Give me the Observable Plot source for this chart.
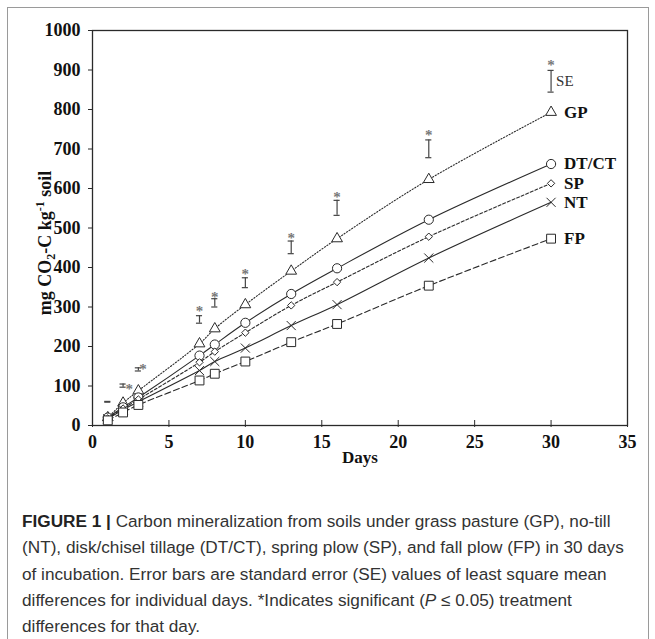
<!DOCTYPE html>
<html><head><meta charset="utf-8">
<script src="https://cdn.jsdelivr.net/npm/d3@7"></script>
<script src="https://cdn.jsdelivr.net/npm/@observablehq/plot@0.6"></script>
<style>
body{margin:0;background:#fff;width:655px;height:639px;overflow:hidden;position:relative}
#frame{position:absolute;left:7px;top:7px;width:642px;height:700px;border:1.5px solid #9a9a9a;box-sizing:border-box}
#chart{position:absolute;left:0;top:0}
#caption{position:absolute;left:22px;top:508px;font-family:"Liberation Sans",Arial,sans-serif;font-size:17.2px;line-height:26.3px;color:#333;white-space:nowrap}
#caption b{color:#222}
</style></head>
<body>
<div id="frame"></div>
<div id="chart"></div>
<div id="caption">
<div><b>FIGURE 1 |</b> Carbon mineralization from soils under grass pasture (GP), no-till</div>
<div>(NT), disk/chisel tillage (DT/CT), spring plow (SP), and fall plow (FP) in 30 days</div>
<div>of incubation. Error bars are standard error (SE) values of least square mean</div>
<div>differences for individual days. *Indicates significant (<i>P</i> ≤ 0.05) treatment</div>
<div>differences for that day.</div>
</div>
<script>
// ---- data ----
const days = [1, 2, 3, 7, 8, 10, 13, 16, 22, 30];
const gp   = [20, 57, 88, 207, 245, 306, 391, 473, 623, 793];
const dtct = [20, 46, 71, 177, 205, 260, 333, 398, 521, 662];
const sp   = [18, 43, 66, 160, 187, 235, 304, 363, 478, 613];
const nt   = [17, 40, 60, 139, 162, 196, 253, 306, 424, 565];
const fp   = [13, 33, 52, 114, 131, 162, 211, 257, 354, 473];
const seriesNames = ["GP", "DT/CT", "SP", "NT", "FP"];
const seriesValues = [gp, dtct, sp, nt, fp];

const seDays = [1, 2, 3, 7, 8, 10, 13, 16, 22, 30];
const seLow  = [59, 97, 138, 259, 300, 349, 435, 532, 678, 844];
const seHigh = [61, 105, 146, 278, 321, 374, 467, 570, 723, 899];
const starDays = [2.4, 3.3, 7, 8, 10, 13, 16, 22, 30];
const starVals = [103, 152, 300, 335, 394, 485, 588, 745, 922];

const xTicks = [0, 5, 10, 15, 20, 25, 30, 35];
const yTicks = [0, 100, 200, 300, 400, 500, 600, 700, 800, 900, 1000];

// ---- styles per series ----
const symbols = {"GP": "triangle", "DT/CT": "circle", "SP": "diamond2", "NT": "times", "FP": "square"};
const radii = {"GP": 4.0, "DT/CT": 4.6, "SP": 3.3, "NT": 4.2, "FP": 5.0};
const dashes = {"GP": "1.2,1.8", "DT/CT": null, "SP": "3,2", "NT": null, "FP": "6,3"};

const rows = [];
seriesNames.forEach((s, i) => days.forEach((d, j) => rows.push({series: s, day: d, value: seriesValues[i][j]})));
const lastRows = seriesNames.map((s, i) => ({series: s, day: days[days.length - 1], value: seriesValues[i][days.length - 1]}));
const seRows = seDays.map((d, i) => ({day: d, lo: seLow[i], hi: seHigh[i]}));
const starRows = starDays.map((d, i) => ({day: d, value: starVals[i]}));

const ink = "#2a2a2a";
const marks = [
  Plot.frame({stroke: ink, strokeWidth: 1.3}),
  Plot.axisX({ticks: xTicks, tickSize: 7, dy: -5, text: null, label: null, stroke: ink}),
  Plot.axisX({ticks: xTicks, tickSize: 0, tickPadding: 10, fontSize: 18, fontWeight: "bold", label: null, fill: "#111", tickFormat: d => String(d)}),
  Plot.axisY({ticks: yTicks, tickSize: 4, tickPadding: 8, fontSize: 18, fontWeight: "bold", label: null, fill: "#111", stroke: ink, tickFormat: d => String(d)}),
  Plot.text(["Days"], {frameAnchor: "bottom", dy: 37, fontSize: 17, fontWeight: "bold", fill: "#111"}),
];
seriesNames.forEach(s => {
  const data = rows.filter(r => r.series === s);
  marks.push(Plot.line(data, {x: "day", y: "value", curve: "catmull-rom", stroke: ink, strokeWidth: 1.1, strokeDasharray: dashes[s]}));
});
seriesNames.forEach(s => {
  const data = rows.filter(r => r.series === s);
  marks.push(Plot.dot(data, {x: "day", y: "value", symbol: () => symbols[s], r: radii[s], stroke: ink, strokeWidth: 1, fill: s === "NT" ? "none" : "white"}));
});
marks.push(
  Plot.ruleX(seRows, {x: "day", y1: "lo", y2: "hi", stroke: "#444", strokeWidth: 1.2}),
  Plot.ruleY(seRows, {y: "lo", x1: d => d.day - 0.2, x2: d => d.day + 0.2, stroke: "#444", strokeWidth: 1.2}),
  Plot.ruleY(seRows, {y: "hi", x1: d => d.day - 0.2, x2: d => d.day + 0.2, stroke: "#444", strokeWidth: 1.2}),
  Plot.text(starRows, {x: "day", y: "value", text: () => "*", fontSize: 15, fill: "#777", dy: 4, fontFamily: "Liberation Serif"}),
  Plot.text([seRows[seRows.length - 1]], {x: "day", y: d => (d.lo + d.hi) / 2, text: () => "SE", dx: 5, textAnchor: "start", fontSize: 15, fontWeight: "normal", fill: "#333"}),
  Plot.text(lastRows, {x: "day", y: "value", text: "series", dx: 13, textAnchor: "start", fontSize: 17, fontWeight: "bold", fill: "#111"})
);

const chart = Plot.plot({
  width: 655, height: 470,
  marginLeft: 92, marginRight: 28, marginTop: 30, marginBottom: 45,
  style: {fontFamily: "'Liberation Serif', 'Times New Roman', serif", fontWeight: "bold", color: "#111", background: "transparent"},
  x: {domain: [0, 35]},
  y: {domain: [0, 1000]},
  symbol: {type: "identity"},
  marks
});
document.getElementById("chart").appendChild(chart);

// rotated y-axis label with sub/superscripts
const svg = d3.select(chart);
const t = svg.append("text")
  .attr("transform", "translate(51,243) rotate(-90)")
  .attr("text-anchor", "middle")
  .attr("font-family", "'Liberation Serif', serif")
  .attr("font-weight", "bold").attr("font-size", 18).attr("fill", "#111");
t.append("tspan").text("mg CO");
t.append("tspan").text("2").attr("font-size", 12).attr("dy", 4);
t.append("tspan").text("-C kg").attr("dy", -4);
t.append("tspan").text("-1").attr("font-size", 12).attr("dy", -7);
t.append("tspan").text(" soil").attr("dy", 7);
</script>
</body></html>
